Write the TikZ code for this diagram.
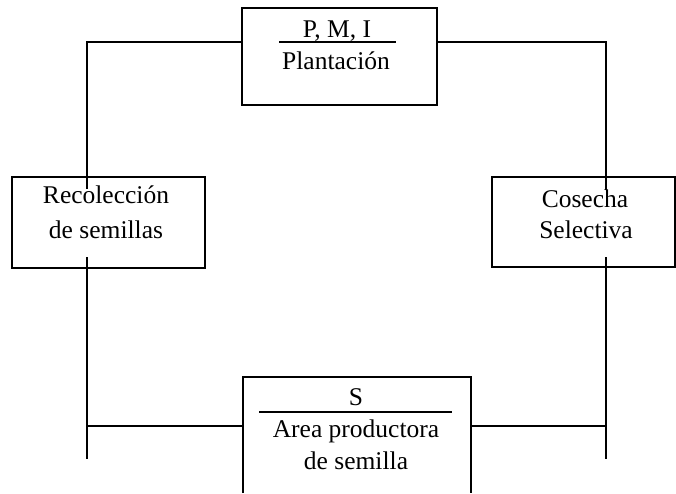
\documentclass[tikz,border=0pt]{standalone}
\usepackage{fontspec}
\setmainfont{Liberation Serif}
\begin{document}
\begin{tikzpicture}[x=1pt,y=-1pt,line width=2.2pt,
  box/.style={draw,inner sep=0pt,outer sep=0pt},
  lbl/.style={anchor=base,inner sep=0pt,font=\fontsize{25.5}{30}\selectfont}]
\useasboundingbox (0,0) rectangle (676,493);

% boxes
\node[box,minimum width=195pt,minimum height=97pt] (top) at (339.5,56.5) {};
\node[box,minimum width=193pt,minimum height=91pt] (rec) at (108.5,222.5) {};
\node[box,minimum width=183pt,minimum height=90pt] (cos) at (583.5,222) {};
\node[inner sep=0pt,outer sep=0pt,minimum width=228pt,minimum height=116pt] (area) at (357,435) {};
\draw (area.south west) -- (area.north west) -- (area.north east) -- (area.south east);

% labels
\node[lbl] (pmi) at (337,37.5) {P, M, I};
\node[lbl] (plant) at (336,69) {Plantación};
\draw (279,42) -- (396,42);
\node[lbl] (rec1) at (106,203) {Recolección};
\node[lbl] (rec2) at (106,238) {de semillas};
\node[lbl] (cos1) at (585,207) {Cosecha};
\node[lbl] (cos2) at (586,238) {Selectiva};
\node[lbl] (s) at (356,405) {S};
\draw (259,412) -- (452,412);
\node[lbl] (ap) at (356,437) {Area productora};
\node[lbl] (ds) at (356,469) {de semilla};

% connector ends
\coordinate (recTop) at (87,189);
\coordinate (cosTop) at (606,190);
\coordinate (recBot) at (87,257);
\coordinate (cosBot) at (606,257);
\coordinate (lEnd) at (87,459);
\coordinate (rEnd) at (606,459);
\coordinate (lJoin) at (87,426);
\coordinate (rJoin) at (606,426);

% connectors
\draw (top.west |- 0,42) -| (recTop);
\draw (top.east |- 0,42) -| (cosTop);
\draw (recBot) -- (lEnd);
\draw (cosBot) -- (rEnd);
\draw (lJoin) -- (area.west |- lJoin);
\draw (rJoin) -- (area.east |- rJoin);
\end{tikzpicture}
\end{document}
